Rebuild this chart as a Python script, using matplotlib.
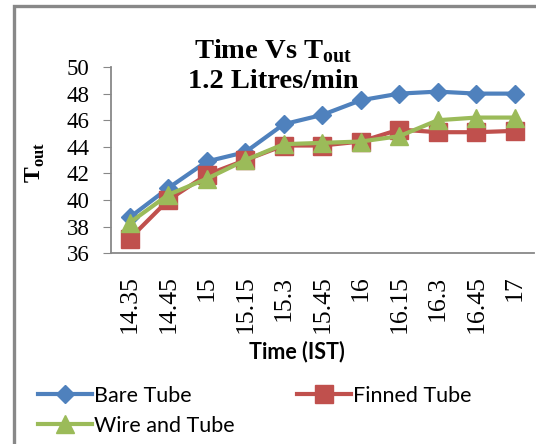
import matplotlib.pyplot as plt
from matplotlib.patches import Rectangle

# Data
times = ['14.35', '14.45', '15', '15.15', '15.3', '15.45', '16', '16.15', '16.3', '16.45', '17']
bare_tube = [38.7, 40.9, 42.9, 43.6, 45.7, 46.4, 47.5, 48.0, 48.15, 48.0, 48.0]
finned_tube = [37.1, 40.0, 41.9, 43.0, 44.1, 44.1, 44.4, 45.3, 45.1, 45.1, 45.2]
wire_tube = [38.3, 40.4, 41.6, 43.0, 44.2, 44.3, 44.4, 44.8, 46.0, 46.2, 46.2]

SERIF = 'Liberation Serif'
SANS = 'Lato'


def main():
    fig = plt.figure(figsize=(5.36, 4.44), dpi=100)

    # outer chart border (cropped on right/bottom in the original)
    fig.patches.append(Rectangle((14.5 / 536, -0.1), 1.2, 1 - 6.5 / 444 + 0.1,
                                 transform=fig.transFigure, fill=False,
                                 edgecolor='#888888', linewidth=2.4))

    ax = fig.add_axes([110.5 / 536, 1 - 253.3 / 444, (534 - 110.5) / 536, (253.3 - 67) / 444])
    x = range(len(times))
    l1, = ax.plot(x, bare_tube, color='#4F81BD', marker='D', markersize=9, linewidth=3,
                  label='Bare Tube', clip_on=False)
    l2, = ax.plot(x, finned_tube, color='#C0504D', marker='s', markersize=13, linewidth=3,
                  label='Finned Tube', clip_on=False)
    l3, = ax.plot(x, wire_tube, color='#9BBB59', marker='^', markersize=13, linewidth=3,
                  label='Wire and Tube', clip_on=False)

    ax.set_xlim(-0.5, len(times) - 0.5)
    ax.set_ylim(36, 50)
    ax.set_yticks(range(36, 51, 2))
    ax.set_xticks(list(x))
    ax.set_xticklabels(times, rotation=90, fontfamily=SERIF, fontsize=18.5)
    for lab in ax.get_yticklabels():
        lab.set_fontfamily(SERIF)
        lab.set_fontsize(16.5)
    ax.tick_params(axis='y', length=6, color='#888888', pad=9)
    ax.tick_params(axis='x', length=0, pad=16)
    for side in ['top', 'right']:
        ax.spines[side].set_visible(False)
    for side in ['left', 'bottom']:
        ax.spines[side].set_color('#888888')
        ax.spines[side].set_linewidth(1.3)

    ax.set_ylabel(r'T$_{\mathregular{out}}$', fontfamily=SERIF, fontweight='bold', fontsize=17)
    ax.yaxis.set_label_coords((35 - 110.5) / (534 - 110.5), (253.3 - 163) / (253.3 - 67))
    ax.yaxis.label.set_va('center')
    ax.set_xlabel('Time (IST)', fontfamily=SANS, fontweight='bold', fontsize=15.5)
    ax.xaxis.set_label_coords((297 - 110.5) / (534 - 110.5), -(352 - 253.3) / (253.3 - 67))
    ax.xaxis.label.set_va('center')

    fig.text(273 / 536, 1 - 51 / 444, r'Time Vs T$_{\mathregular{out}}$', ha='center', va='center',
             fontfamily=SERIF, fontweight='bold', fontsize=20.5)
    fig.text(273 / 536, 1 - 82 / 444, '1.2 Litres/min', ha='center', va='center',
             fontfamily=SERIF, fontweight='bold', fontsize=20.5)

    # reorder so rows read: Bare, Finned / Wire
    fig.legend([l1, l3, l2], ['Bare Tube', 'Wire and Tube', 'Finned Tube'],
               loc='upper left', bbox_to_anchor=(38 / 536, 1 - 386 / 444), ncol=2,
               frameon=False, prop={'family': SANS, 'size': 15.5}, handlelength=2.5,
               handletextpad=0.1, columnspacing=2.9, labelspacing=0.45,
               borderaxespad=0, borderpad=0)

    fig.savefig('out.png', dpi=100)


if __name__ == '__main__':
    main()
